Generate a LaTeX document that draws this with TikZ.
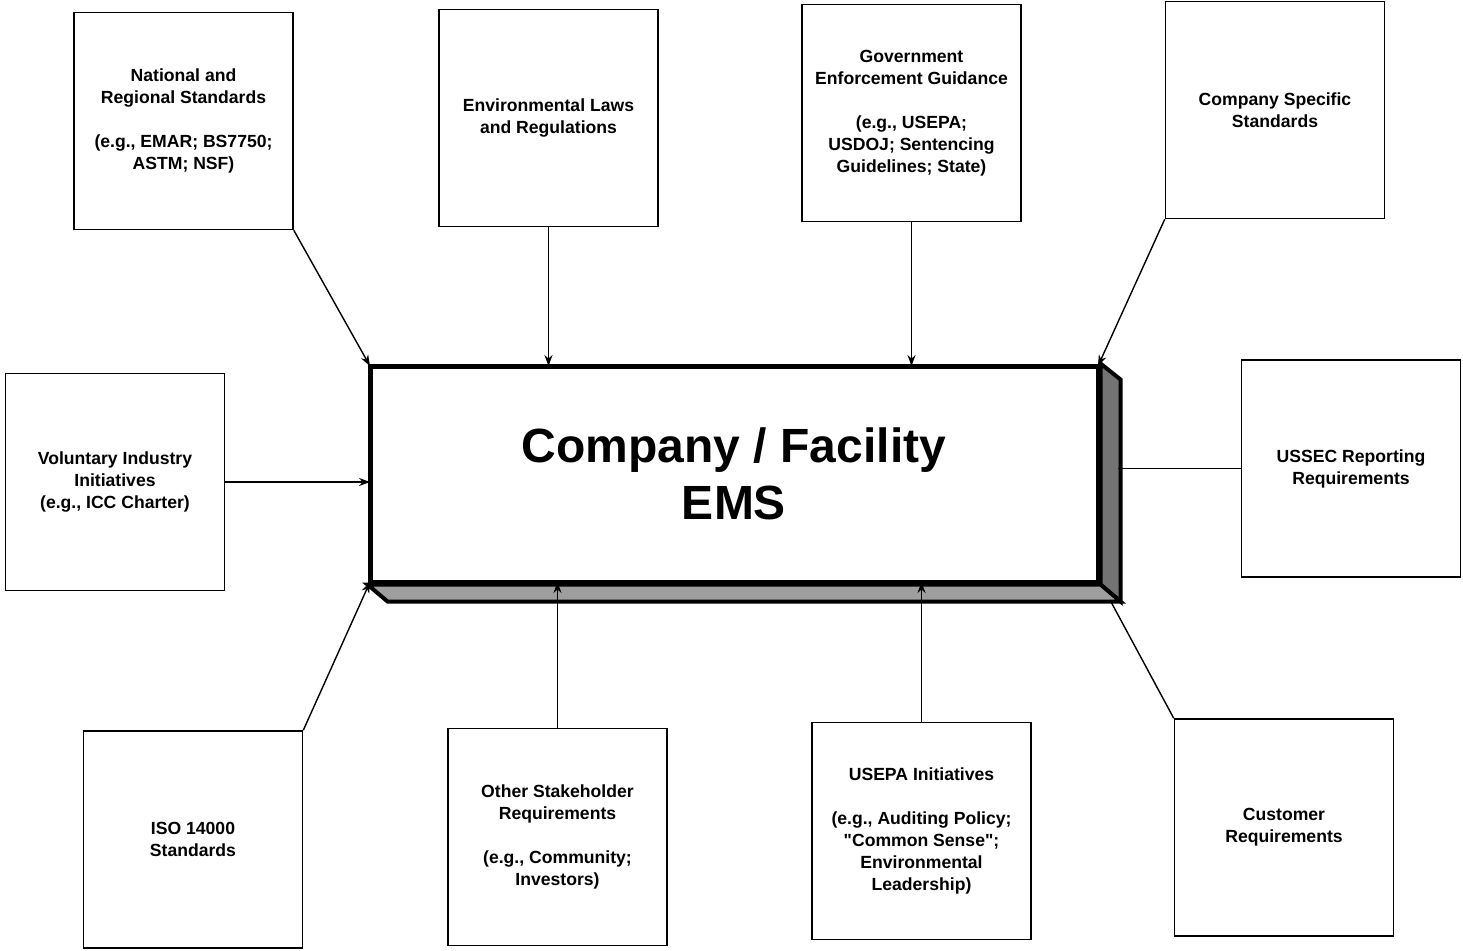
\documentclass[tikz,border=0pt]{standalone}
\usepackage{fontspec}
\setmainfont{Liberation Sans}[Ligatures=TeXOff]
\usetikzlibrary{arrows.meta,calc}
\begin{document}
\begin{tikzpicture}[x=0.5pt,y=-0.5pt,
  bx/.style={draw, line width=0.8pt, minimum width=109.5pt, minimum height=108.5pt,
    inner sep=0pt, align=center, font=\fontsize{8.8}{11}\selectfont\bfseries},
  arr/.style={line width=0.7pt, -{Stealth[length=5.5pt,width=4pt]}},
  ln/.style={line width=0.7pt},
  face/.style={draw, line width=2pt, line join=miter}]
\useasboundingbox (0,0) rectangle (1463,950);

% central box
\path (734,474) node[minimum width=364pt, minimum height=108pt, inner sep=0pt, line width=2.5pt] (ems) {};
\draw[face, fill=black!55] (ems.north east) -- ++(20,16) -- ($(ems.south east)+(20,17)$) -- (ems.south east) -- cycle;
\draw[face, fill=black!38] (ems.south west) -- ($(ems.south west)+(20,17)$) -- ($(ems.south east)+(20,17)$) -- (ems.south east) -- cycle;
\node[draw, line width=2.5pt, fill=white, minimum width=364pt, minimum height=108pt, inner sep=0pt, outer sep=0pt,
  align=center, font=\fontsize{24}{28.5}\selectfont\bfseries] (emsf) at (734,474) {Company / Facility\\EMS};

% source boxes
\node[bx] (nat) at (183.5,121) {National and\\Regional Standards\\[11pt](e.g., EMAR; BS7750;\\ASTM; NSF)};
\node[bx] (env) at (548.5,118) {Environmental Laws\\and Regulations};
\node[bx] (gov) at (911.5,113) {Government\\Enforcement Guidance\\[11pt](e.g., USEPA;\\USDOJ; Sentencing\\Guidelines; State)};
\node[bx] (cs) at (1275,110) {Company Specific\\Standards};
\node[bx] (vol) at (115,482) {Voluntary Industry\\Initiatives\\(e.g., ICC Charter)};
\node[bx] (ussec) at (1351,468.5) {USSEC Reporting\\Requirements};
\node[bx] (iso) at (193,839.5) {ISO 14000\\Standards};
\node[bx] (oth) at (557.5,837) {Other Stakeholder\\Requirements\\[11pt](e.g., Community;\\Investors)};
\node[bx] (usepa) at (921.5,831) {USEPA Initiatives\\[11pt](e.g., Auditing Policy;\\"Common Sense";\\Environmental\\Leadership)};
\node[bx] (cust) at (1284,827.5) {Customer\\Requirements};

% helper coordinates on the 3D faces
\coordinate (rfx) at ($(emsf.north east)+(20,0)$);
\coordinate (bfc) at ($(emsf.south east)+(12,18)$);

% connectors
\draw[arr] (nat.south east) -- (emsf.north west);
\draw[arr] (env.south) -- (env.south |- emsf.north);
\draw[arr] (gov.south) -- (gov.south |- emsf.north);
\draw[arr] (cs.south west) -- (emsf.north east);
\draw[arr] (vol.east) -- (vol.east -| emsf.west);
\draw[ln] (ussec.west -| rfx) -- (ussec.west);
\draw[arr] (iso.north east) -- (emsf.south west);
\draw[arr] (oth.north) -- (oth.north |- emsf.south);
\draw[arr] (usepa.north) -- (usepa.north |- emsf.south);
\draw[ln] (cust.north west) -- (bfc);
\end{tikzpicture}
\end{document}
